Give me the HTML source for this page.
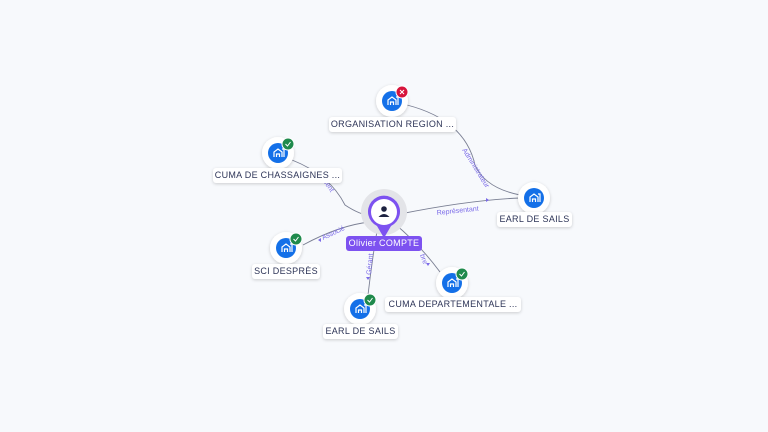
<!DOCTYPE html>
<html><head><meta charset="utf-8"><style>
html,body{margin:0;padding:0;background:#f7f9fc;width:768px;height:432px;overflow:hidden;font-family:"Liberation Sans",sans-serif}
.lbl{position:absolute;background:#fff;border-radius:3px;box-shadow:0 1px 3px rgba(0,0,0,.18);font-size:9px;color:#2d3457;text-align:center;line-height:15px;height:15px;white-space:nowrap;letter-spacing:.3px}
</style></head><body>
<svg width="768" height="432" style="position:absolute;left:0;top:0" font-family="Liberation Sans, sans-serif">
<defs>
<filter id="sh" x="-50%" y="-50%" width="200%" height="200%"><feDropShadow dx="0" dy="1" stdDeviation="1.5" flood-color="#000" flood-opacity=".2"/></filter>
<g id="bld"><path d="M-4 4 V-1 L0 -4 L4 -1 V4 M-1.5 4 V1 H1.5 V4 M4 -4 H6 V4" fill="none" stroke="#fff" stroke-width="1.2"/></g>
</defs>
<g fill="none" stroke="#7a7f93" stroke-width="0.9">
<path d="M407 105 Q465 120 475 165 Q485 188 520 195"/>
<path d="M292 160 Q330 175 345 205 Q360 215 372 216"/>
<path d="M400 214 Q470 200 520 198"/>
<path d="M370 222 Q340 225 303 245"/>
<path d="M378 225 Q372 260 368 295"/>
<path d="M395 224 Q420 245 440 272"/>
</g>
<g fill="#7b6be8" font-size="7">
<text transform="translate(462,150) rotate(58)">Administrateur</text>
<text transform="translate(322,180) rotate(55)">ident</text>
<text x="437" y="215" transform="rotate(-6 437 215)">Représentant</text>
<text transform="translate(323,240) rotate(-25)">Associé</text>
<text transform="translate(371,275) rotate(-85)">Gérant</text>
<text transform="translate(420,255) rotate(70)">bre</text>
</g>
<g fill="#7b6be8"><path d="M489 200 l-3 -2 v4z"/><path d="M318 240 l3 -2 v4z"/><path d="M368 280 l-2 -3 h4z"/><path d="M428 266 l-2 -3 h4z"/></g>
<circle cx="384" cy="212" r="23" fill="#e3e4e8"/>
<path d="M384 238 L377 226 A16 16 0 1 1 391 226 Z" fill="#7d52f0"/>
<circle cx="384" cy="212" r="13" fill="#fff"/>
<circle cx="384" cy="209" r="2.8" fill="#1d2240"/><path d="M378.5 217 Q384 211 389.5 217 Z" fill="#1d2240"/>
<g transform="translate(392,101)"><circle r="16" fill="#fff" filter="url(#sh)"/><circle r="10" fill="#1470e8"/><use href="#bld"/><circle cx="10" cy="-9" r="6" fill="#d7143c" stroke="#fff" stroke-width="1"/><path d="M8 -11 l4 4 M12 -11 l-4 4" stroke="#fff" stroke-width="1"/></g>
<g transform="translate(278,153)"><circle r="16" fill="#fff" filter="url(#sh)"/><circle r="10" fill="#1470e8"/><use href="#bld"/><circle cx="10" cy="-9" r="6" fill="#1f8a4c" stroke="#fff" stroke-width="1"/><path d="M7.5 -9 l2 2 l3 -4" fill="none" stroke="#fff" stroke-width="1"/></g>
<g transform="translate(534,198)"><circle r="16" fill="#fff" filter="url(#sh)"/><circle r="10" fill="#1470e8"/><use href="#bld"/></g>
<g transform="translate(286,248)"><circle r="16" fill="#fff" filter="url(#sh)"/><circle r="10" fill="#1470e8"/><use href="#bld"/><circle cx="10" cy="-9" r="6" fill="#1f8a4c" stroke="#fff" stroke-width="1"/><path d="M7.5 -9 l2 2 l3 -4" fill="none" stroke="#fff" stroke-width="1"/></g>
<g transform="translate(360,309)"><circle r="16" fill="#fff" filter="url(#sh)"/><circle r="10" fill="#1470e8"/><use href="#bld"/><circle cx="10" cy="-9" r="6" fill="#1f8a4c" stroke="#fff" stroke-width="1"/><path d="M7.5 -9 l2 2 l3 -4" fill="none" stroke="#fff" stroke-width="1"/></g>
<g transform="translate(452,283)"><circle r="16" fill="#fff" filter="url(#sh)"/><circle r="10" fill="#1470e8"/><use href="#bld"/><circle cx="10" cy="-9" r="6" fill="#1f8a4c" stroke="#fff" stroke-width="1"/><path d="M7.5 -9 l2 2 l3 -4" fill="none" stroke="#fff" stroke-width="1"/></g>
</svg>
<div class="lbl" style="left:329px;top:117px;width:127px">ORGANISATION REGION ...</div>
<div class="lbl" style="left:213px;top:168px;width:129px">CUMA DE CHASSAIGNES ...</div>
<div class="lbl" style="left:497px;top:212px;width:75px">EARL DE SAILS</div>
<div class="lbl" style="left:252px;top:264px;width:68px">SCI DESPRÈS</div>
<div class="lbl" style="left:323px;top:324px;width:75px">EARL DE SAILS</div>
<div class="lbl" style="left:385px;top:297px;width:136px">CUMA DEPARTEMENTALE ...</div>
<div class="lbl" style="left:346px;top:236px;width:76px;background:#7d52f0;color:#fff;box-shadow:none">Olivier COMPTE</div>
</body></html>
